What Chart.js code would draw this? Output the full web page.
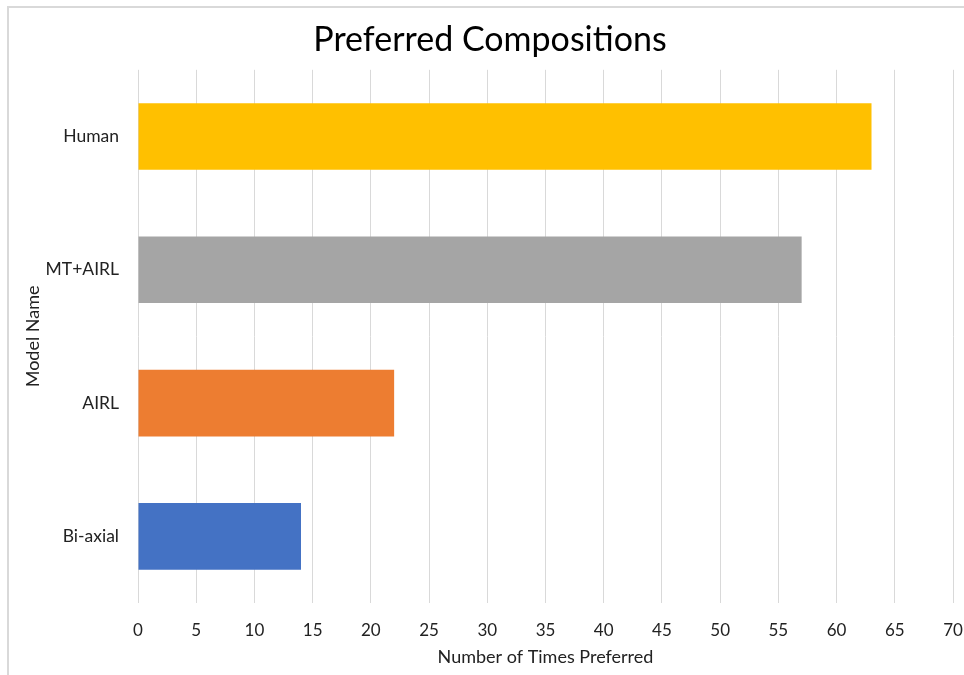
<!DOCTYPE html>
<html>
<head>
<meta charset="utf-8">
<script src="https://cdn.jsdelivr.net/npm/chart.js@4"></script>
<style>
  html, body { margin: 0; padding: 0; background: #fff; overflow: hidden; }
  #wrap { position: relative; width: 964px; height: 675px; }
  #frame { position: absolute; left: 7px; top: 6px; width: 1000px; height: 700px;
           border: 2px solid #d9d9d9; pointer-events: none; }
</style>
</head>
<body>
<div id="wrap">
  <canvas id="grafico" width="964" height="675"></canvas>
  <div id="frame"></div>
</div>
<script>
// dados
const modelos = ['Human', 'MT+AIRL', 'AIRL', 'Bi-axial'];
const vezesPreferido = [63, 57, 22, 14];
const cores = ['#FFC000', '#A5A5A5', '#ED7D31', '#4472C4'];
const eixoMin = 0, eixoMax = 70, passo = 5;

const fonte = 'Lato, "Open Sans", sans-serif';

new Chart(document.getElementById('grafico').getContext('2d'), {
    type: 'bar',
    data: {
        labels: modelos,
        datasets: [{
            data: vezesPreferido,
            backgroundColor: cores,
            barPercentage: 0.5,
            categoryPercentage: 1
        }]
    },
    options: {
        indexAxis: 'y',
        responsive: false,
        animation: false,
        layout: { padding: { left: 16, right: 0, top: 0, bottom: 0 } },
        plugins: {
            legend: { display: false },
            tooltip: { enabled: false },
            title: {
                display: true,
                text: 'Preferred Compositions',
                color: '#000',
                font: { family: fonte, size: 34, weight: 'normal' },
                padding: { top: 20, bottom: 9 }
            }
        },
        scales: {
            x: {
                min: eixoMin, max: eixoMax,
                ticks: { stepSize: passo, color: '#222', padding: 17, font: { family: fonte, size: 17 } },
                grid: { color: '#d9d9d9', lineWidth: 1, drawTicks: false },
                border: { display: false },
                title: { display: true, text: 'Number of Times Preferred', color: '#222',
                         font: { family: fonte, size: 18 }, padding: { top: 0, bottom: 7 } },
                afterFit: s => { s.height = 72; s.paddingLeft = 0; s.paddingRight = 11; }
            },
            y: {
                ticks: { color: '#222', padding: 19, font: { family: fonte, size: 17.5 } },
                grid: { display: false, drawTicks: false },
                border: { display: false },
                title: { display: true, text: 'Model Name', color: '#222',
                         font: { family: fonte, size: 18 }, padding: { top: 6, bottom: 0 } },
                afterFit: s => { s.width = 122; }
            }
        }
    }
});
</script>
</body>
</html>
